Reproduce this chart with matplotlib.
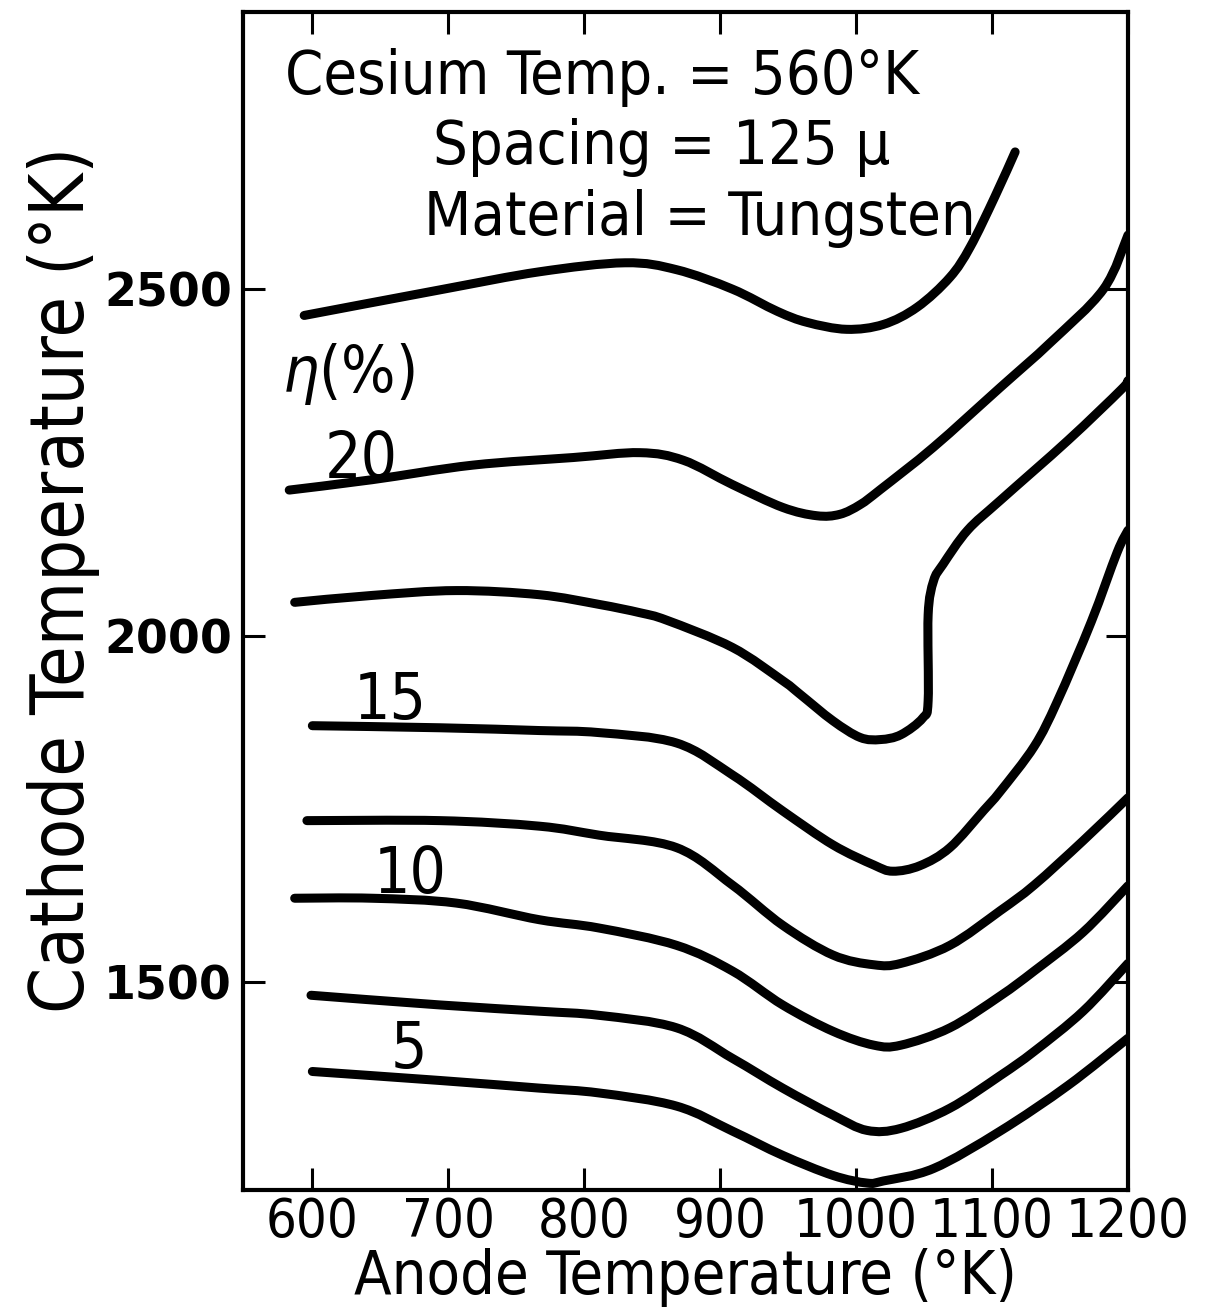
import matplotlib
matplotlib.use("Agg")
import matplotlib.pyplot as plt
from matplotlib.path import Path
from matplotlib.patches import PathPatch
import numpy as np

plt.rcParams['font.family'] = ['DejaVu Sans']
plt.rcParams['font.stretch'] = 'condensed'

# efficiency contours (anode T in K, cathode T in K)
anode_22_5 = [594, 694, 767, 830, 868, 909, 942, 964, 993, 1020, 1045, 1069, 1084, 1102, 1117]
cathode_22_5 = [2462, 2499, 2525, 2538, 2528, 2500, 2468, 2452, 2442, 2449, 2474, 2517, 2561, 2633, 2698]

anode_20 = [583, 644, 718, 792, 841, 873, 909, 946, 971, 988, 1003, 1018, 1057, 1106, 1143, 1182, 1200]
cathode_20 = [2210, 2225, 2246, 2257, 2264, 2253, 2218, 2185, 2173, 2175, 2189, 2211, 2272, 2358, 2423, 2500, 2578]

anode_17_5 = [587, 644, 706, 767, 811, 841, 861, 909, 946, 959, 983, 1003, 1018, 1033, 1049, 1053,
              1053, 1057, 1064, 1082, 1106, 1156, 1195, 1200]
cathode_17_5 = [2048, 2058, 2065, 2059, 2045, 2033, 2022, 1983, 1935, 1915, 1877, 1853, 1850, 1857, 1881, 1906,
                2030, 2079, 2103, 2152, 2195, 2282, 2355, 2368]

anode_15 = [600, 694, 767, 811, 868, 909, 946, 983, 1013, 1027, 1047, 1069, 1094, 1106, 1131, 1148, 1173, 1192, 1200]
cathode_15 = [1870, 1867, 1863, 1860, 1845, 1799, 1747, 1698, 1669, 1660, 1668, 1694, 1748, 1775, 1840, 1905,
              2020, 2120, 2152]

anode_12_5 = [596, 694, 767, 811, 868, 909, 946, 983, 1013, 1033, 1069, 1106, 1131, 1167, 1200]
cathode_12_5 = [1733, 1733, 1725, 1712, 1694, 1640, 1582, 1539, 1525, 1527, 1553, 1603, 1640, 1704, 1766]

anode_10 = [587, 644, 706, 767, 811, 868, 909, 946, 983, 1013, 1033, 1069, 1106, 1131, 1167, 1200]
cathode_10 = [1621, 1621, 1614, 1590, 1578, 1553, 1516, 1467, 1429, 1409, 1409, 1434, 1480, 1516, 1572, 1639]

anode_7_5 = [599, 694, 767, 811, 868, 909, 946, 983, 1008, 1033, 1069, 1106, 1131, 1167, 1200]
cathode_7_5 = [1481, 1467, 1458, 1452, 1434, 1390, 1347, 1308, 1286, 1289, 1318, 1365, 1400, 1458, 1527]

anode_5 = [600, 694, 767, 811, 868, 909, 946, 983, 1008, 1020, 1057, 1106, 1156, 1200]
cathode_5 = [1371, 1358, 1347, 1340, 1321, 1285, 1250, 1221, 1210, 1213, 1231, 1285, 1351, 1419]

curves = [(anode_22_5, cathode_22_5), (anode_20, cathode_20), (anode_17_5, cathode_17_5),
          (anode_15, cathode_15), (anode_12_5, cathode_12_5), (anode_10, cathode_10),
          (anode_7_5, cathode_7_5), (anode_5, cathode_5)]

contour_labels = ['20', '15', '10', '5']
label_x = [636, 657, 672, 671]
label_y = [2228, 1879, 1629, 1376]

x_ticks = [600, 700, 800, 900, 1000, 1100, 1200]
y_ticks = [1500, 2000, 2500]


def smooth_path(xs, ys):
    # pen-drawn look: Catmull-Rom segments through the read points as cubic Beziers
    p = np.column_stack([xs, ys]).astype(float)
    p = np.vstack([p[0], p, p[-1]])
    verts = [p[1]]
    codes = [Path.MOVETO]
    for i in range(1, len(p) - 2):
        c1 = p[i] + (p[i + 1] - p[i - 1]) / 6
        c2 = p[i + 1] - (p[i + 2] - p[i]) / 6
        verts += [c1, c2, p[i + 1]]
        codes += [Path.CURVE4] * 3
    return Path(verts, codes)


fig = plt.figure(figsize=(12.06, 13.12), dpi=100)
ax = fig.add_axes([0.2015, 0.093, 0.7338, 0.8979])

for xs, ys in curves:
    ax.add_patch(PathPatch(smooth_path(xs, ys), fill=False, edgecolor='black', lw=6.5,
                           capstyle='round', joinstyle='round'))

for lab, lx, ly in zip(contour_labels, label_x, label_y):
    ax.text(lx, ly, lab, fontsize=46, ha='center', va='baseline')

ax.text(578, 2351, r'$\eta$(%)', fontsize=46, ha='left', va='baseline')

ax.text(580, 2782, 'Cesium Temp. = 560°K', fontsize=44, ha='left', va='baseline')
ax.text(689, 2681, 'Spacing = 125 μ', fontsize=44, ha='left', va='baseline')
ax.text(682, 2578, 'Material = Tungsten', fontsize=44, ha='left', va='baseline')

ax.set_xlim(549, 1200)
ax.set_ylim(1200, 2900)
ax.set_xticks(x_ticks)
ax.set_yticks(y_ticks)
ax.tick_params(direction='in', length=16, width=2.2, top=True, right=True, pad=8)
ax.tick_params(axis='x', labelsize=39, pad=4)
for t in ax.get_yticklabels():
    t.set_fontstretch('normal')
    t.set_fontweight('bold')
    t.set_fontsize(33)

for s in ax.spines.values():
    s.set_linewidth(3)

ax.set_xlabel('Anode Temperature (°K)', fontsize=44, labelpad=0)
ax.set_ylabel('Cathode Temperature (°K)', fontsize=53)
ax.yaxis.set_label_coords(-0.162, 0.518)

fig.savefig('out.png', dpi=100)
